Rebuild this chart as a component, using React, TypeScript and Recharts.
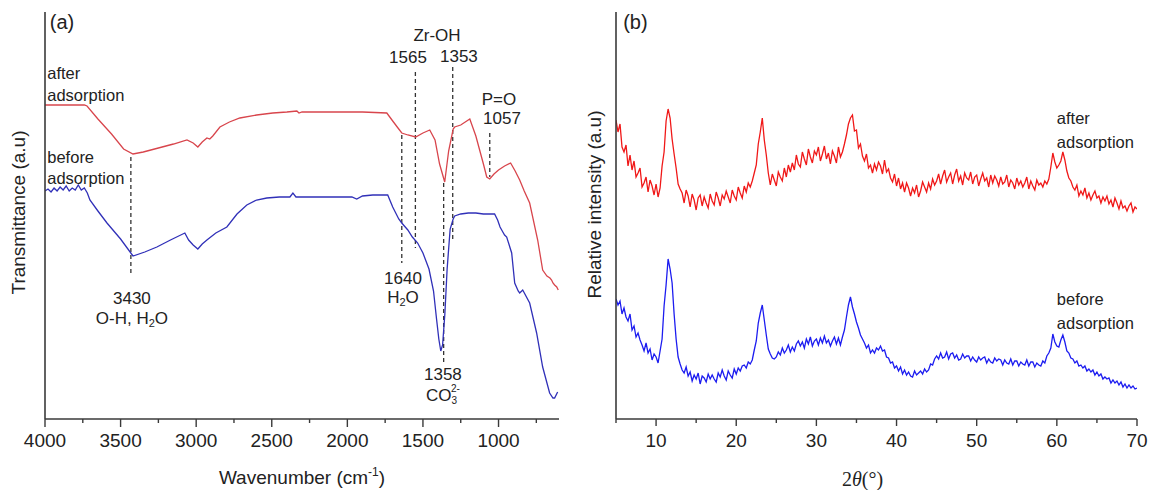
import React from "react";
import {
  Label,
  Line,
  LineChart,
  ReferenceDot,
  ReferenceLine,
  XAxis,
  YAxis,
} from "recharts";

const SANS = '"Liberation Sans", Arial, sans-serif';
const SERIF = '"Liberation Serif", "Times New Roman", serif';
const INK = "#222";
const AXIS = "#3a3a3a";

// ---------- (a) FTIR: [wavenumber cm-1, transmittance a.u.]
const ftirTicks = [
  4000, 3750, 3500, 3250, 3000, 2750, 2500, 2250, 2000, 1750, 1500, 1250,
  1000, 750,
];

const ftirAfter: [number, number][] = [
  [4000, 314], [3900, 314], [3800, 314], [3740, 314], [3722, 313], [3650, 300],
  [3560, 285], [3480, 270], [3418, 265], [3350, 267], [3250, 271], [3150, 275],
  [3061, 279], [3020, 276], [2989, 272], [2960, 277], [2929, 281], [2910, 280],
  [2890, 283], [2843, 292], [2780, 297], [2711, 301], [2600, 304], [2493, 306],
  [2400, 307], [2334, 308], [2320, 306], [2300, 307], [2100, 307], [1900, 307],
  [1739, 306], [1700, 298], [1660, 290], [1640, 286], [1600, 284], [1548, 282],
  [1500, 286], [1455, 289], [1420, 279], [1390, 255], [1356, 237], [1330, 268],
  [1300, 290], [1290, 292], [1250, 294], [1190, 300], [1150, 283], [1100, 255],
  [1078, 242], [1058, 240], [1030, 245], [1000, 249], [960, 253], [920, 256],
  [890, 248], [860, 239], [830, 228], [794, 216], [741, 179], [708, 149],
  [680, 143], [660, 141], [649, 139], [640, 136], [629, 134], [615, 132],
  [605, 129],
];

const ftirBefore: [number, number][] = [
  [4000, 228], [3980, 230], [3960, 227], [3940, 231], [3920, 228], [3900, 232],
  [3880, 229], [3860, 233], [3840, 228], [3820, 231], [3800, 229], [3780, 234],
  [3760, 229], [3740, 231], [3720, 226], [3703, 219], [3650, 208], [3590, 196],
  [3500, 180], [3418, 163], [3340, 167], [3260, 172], [3170, 179], [3075, 186],
  [3050, 179], [3020, 174], [2989, 170], [2960, 175], [2929, 179], [2870, 186],
  [2797, 192], [2730, 205], [2665, 214], [2600, 219], [2533, 221], [2450, 222],
  [2380, 222], [2360, 226], [2340, 222], [2200, 222], [2050, 222], [1970, 222],
  [1938, 220], [1900, 223], [1832, 224], [1733, 224], [1700, 212], [1660, 200],
  [1640, 196], [1600, 189], [1570, 182], [1535, 176], [1500, 166], [1460, 150],
  [1430, 128], [1410, 100], [1395, 80], [1382, 68], [1370, 74], [1355, 105],
  [1340, 150], [1320, 190], [1300, 200], [1290, 203], [1250, 205], [1200, 206],
  [1150, 206], [1100, 205], [1026, 205], [1006, 199], [990, 192], [979, 189],
  [960, 184], [946, 182], [913, 166], [893, 136], [870, 128], [860, 126],
  [840, 129], [794, 116], [748, 86], [708, 52], [662, 26], [640, 21],
  [629, 21], [609, 27],
];

// dashed peak markers: [wavenumber, from, to]
const ftirMarkers: [number, number, number][] = [
  [3432, 262, 146],
  [1640, 284, 156],
  [1550, 347, 171],
  [1303, 352, 179],
  [1363, 236, 54],
  [1058, 286, 242],
];

// ---------- (b) XRD: intensity every 0.25 deg from 5 to 70 (2 theta)
const xrdTicks = [5, 10, 15, 20, 25, 30, 35, 40, 45, 50, 55, 60, 65, 70];

const xrdAfter = [
  316, 304, 312, 289, 284, 291, 270, 281, 266, 275, 259, 263, 268, 249, 253, 259,
  244, 256, 250, 241, 252, 239, 248, 270, 284, 315, 327, 318, 297, 282, 268, 252,
  247, 243, 233, 246, 240, 229, 242, 236, 226, 238, 241, 230, 239, 233, 228, 242,
  235, 231, 244, 238, 230, 241, 237, 245, 239, 233, 246, 240, 236, 249, 243, 238,
  250, 244, 253, 249, 255, 263, 271, 292, 304, 318, 296, 281, 263, 251, 262, 256,
  250, 264, 259, 255, 268, 259, 271, 264, 273, 266, 281, 272, 269, 284, 277, 271,
  287, 279, 273, 285, 281, 289, 275, 282, 290, 277, 283, 272, 285, 280, 273, 289,
  279, 284, 292, 301, 312, 318, 321, 305, 306, 288, 292, 280, 275, 282, 268, 271,
  263, 272, 266, 274, 270, 262, 276, 264, 267, 258, 254, 262, 250, 258, 247, 253,
  244, 253, 248, 240, 248, 243, 251, 239, 245, 254, 249, 244, 253, 247, 257, 251,
  255, 262, 252, 260, 266, 254, 259, 263, 252, 261, 267, 255, 260, 251, 263, 258,
  256, 264, 252, 259, 261, 250, 257, 263, 255, 258, 249, 261, 253, 260, 256, 250,
  259, 252, 254, 261, 249, 256, 253, 247, 258, 251, 255, 249, 253, 259, 247, 255,
  250, 246, 256, 251, 253, 249, 255, 252, 257, 269, 283, 274, 268, 271, 275, 284,
  276, 265, 258, 255, 249, 246, 251, 240, 245, 241, 248, 238, 243, 236, 241, 245,
  238, 240, 233, 239, 235, 240, 232, 236, 229, 238, 233, 227, 235, 228, 230, 225,
  230, 233, 224, 229, 227,
];

const xrdBefore = [
  137, 131, 135, 122, 128, 119, 115, 122, 106, 110, 99, 103, 96, 91, 85, 93,
  83, 87, 76, 82, 79, 73, 85, 97, 130, 151, 177, 167, 153, 122, 97, 79,
  72, 66, 63, 69, 60, 64, 55, 61, 57, 63, 52, 60, 58, 54, 62, 57,
  61, 57, 54, 63, 59, 66, 60, 56, 65, 61, 58, 67, 62, 68, 65, 70,
  71, 68, 74, 72, 76, 86, 95, 113, 123, 131, 116, 101, 87, 82, 78, 77,
  79, 84, 81, 88, 83, 86, 91, 84, 89, 85, 92, 95, 90, 94, 88, 97,
  92, 99, 90, 95, 97, 91, 98, 93, 100, 93, 96, 90, 95, 99, 92, 98,
  91, 99, 106, 119, 131, 139, 129, 122, 114, 108, 101, 97, 93, 88, 91, 83,
  86, 83, 88, 86, 90, 85, 86, 79, 78, 73, 74, 68, 70, 65, 69, 62,
  66, 61, 64, 60, 59, 65, 61, 63, 65, 62, 67, 64, 66, 72, 71, 77,
  80, 77, 83, 78, 79, 84, 77, 82, 83, 78, 81, 76, 77, 82, 78, 80,
  80, 75, 79, 76, 74, 79, 76, 78, 79, 73, 77, 74, 73, 78, 75, 77,
  76, 71, 76, 73, 72, 77, 71, 75, 75, 70, 74, 72, 71, 76, 70, 74,
  74, 69, 73, 71, 70, 75, 73, 80, 83, 88, 102, 94, 90, 89, 96, 101,
  94, 85, 83, 78, 77, 73, 75, 70, 71, 68, 70, 65, 67, 64, 66, 61,
  64, 60, 62, 57, 59, 57, 58, 53, 56, 53, 55, 51, 54, 49, 52, 48,
  51, 48, 50, 47, 48,
];

const toPoints = (rows: [number, number][]) =>
  rows.map(([x, y]) => ({ x, y }));
const xrdPoints = (values: number[]) =>
  values.map((y, i) => ({ x: 5 + i * 0.25, y }));

const makeTick =
  (isMajor: (v: number) => boolean, majorLen: number, minorLen: number) =>
  (props: any) => {
    const { x, y, payload } = props;
    const big = isMajor(payload.value);
    return (
      <g>
        <line
          x1={x}
          x2={x}
          y1={y}
          y2={y + (big ? majorLen : minorLen)}
          stroke={AXIS}
          strokeWidth={1.4}
        />
        {big && (
          <text
            x={x}
            y={y + 28}
            textAnchor="middle"
            fontSize={19}
            fontFamily={SANS}
            fill={INK}
          >
            {payload.value}
          </text>
        )}
      </g>
    );
  };

const Note = ({ cx, cy, anchor = "middle", size = 17, children }: any) => (
  <text
    x={cx}
    y={cy}
    textAnchor={anchor}
    dominantBaseline="central"
    fontSize={size}
    fontFamily={SANS}
    fill={INK}
  >
    {children}
  </text>
);

const note = (
  x: number,
  y: number,
  content: React.ReactNode,
  anchor = "middle",
  size = 17
) => (
  <ReferenceDot
    key={`${x}-${y}`}
    x={x}
    y={y}
    r={0}
    ifOverflow="visible"
    shape={(p: any) => (
      <Note cx={p.cx} cy={p.cy} anchor={anchor} size={size}>
        {content}
      </Note>
    )}
  />
);

const YTitle = ({ viewBox, text, dx, dy }: any) => {
  const cx = viewBox.x + dx;
  const cy = viewBox.y + viewBox.height / 2 + dy;
  return (
    <text
      x={cx}
      y={cy}
      transform={`rotate(-90 ${cx} ${cy})`}
      textAnchor="middle"
      dominantBaseline="central"
      fontSize={19}
      fontFamily={SANS}
      fill={INK}
    >
      {text}
    </text>
  );
};

const FtirChart = () => (
  <LineChart
    width={580}
    height={490}
    margin={{ top: 12, right: 21, bottom: 31, left: 44 }}
  >
    <XAxis
      type="number"
      dataKey="x"
      domain={[600, 4000]}
      reversed
      allowDataOverflow
      ticks={ftirTicks}
      interval={0}
      height={40}
      tickSize={0}
      tickMargin={0}
      tickLine={false}
      stroke={AXIS}
      strokeWidth={1.6}
      tick={makeTick((v) => v % 500 === 0, 8, 4)}
    >
      <Label
        content={({ viewBox }: any) => (
          <text
            x={viewBox.x + viewBox.width / 2}
            y={viewBox.y + 65}
            textAnchor="middle"
            fontSize={19}
            fontFamily={SANS}
            fill={INK}
          >
            Wavenumber (cm
            <tspan dy={-8} fontSize={12}>
              -1
            </tspan>
            <tspan dy={8}>)</tspan>
          </text>
        )}
      />
    </XAxis>
    <YAxis
      type="number"
      domain={[0, 407]}
      allowDataOverflow
      width={1}
      tick={false}
      tickLine={false}
      stroke={AXIS}
      strokeWidth={1.6}
    >
      <Label
        content={(p: any) => (
          <YTitle {...p} text="Transmittance (a.u)" dx={-26} dy={-3} />
        )}
      />
    </YAxis>

    {ftirMarkers.map(([wn, from, to]) => (
      <ReferenceLine
        key={wn}
        segment={[
          { x: wn, y: from },
          { x: wn, y: to },
        ]}
        stroke="#333"
        strokeWidth={1.3}
        strokeDasharray="4 3"
      />
    ))}

    <Line
      data={toPoints(ftirAfter)}
      dataKey="y"
      type="linear"
      stroke="#d8454c"
      strokeWidth={1.3}
      dot={false}
      isAnimationActive={false}
    />
    <Line
      data={toPoints(ftirBefore)}
      dataKey="y"
      type="linear"
      stroke="#3030b8"
      strokeWidth={1.3}
      dot={false}
      isAnimationActive={false}
    />

    {note(3968, 397, "(a)", "start", 20)}
    {note(3985, 346, "after", "start", 16.5)}
    {note(3985, 324, "adsorption", "start", 16.5)}
    {note(3985, 262, "before", "start", 16.5)}
    {note(3985, 241, "adsorption", "start", 16.5)}
    {note(3425, 121, "3430")}
    {note(
      3425,
      101,
      <>
        O-H, H
        <tspan dy={5} fontSize={11}>
          2
        </tspan>
        <tspan dy={-5}>O</tspan>
      </>
    )}
    {note(1632, 141, "1640")}
    {note(
      1632,
      122,
      <>
        H
        <tspan dy={5} fontSize={11}>
          2
        </tspan>
        <tspan dy={-5}>O</tspan>
      </>
    )}
    {note(1368, 45, "1358")}
    {note(
      1368,
      24,
      <>
        CO
        <tspan dy={5} fontSize={10}>
          3
        </tspan>
        <tspan dx={-6} dy={-12} fontSize={10}>
          2-
        </tspan>
      </>
    )}
    {note(1599, 362, "1565")}
    {note(1407, 384, "Zr-OH")}
    {note(1262, 363, "1353")}
    {note(997, 320, "P=O")}
    {note(977, 301, "1057")}
  </LineChart>
);

const XrdChart = () => (
  <LineChart
    width={572}
    height={490}
    margin={{ top: 12, right: 15, bottom: 31, left: 35 }}
  >
    <XAxis
      type="number"
      dataKey="x"
      domain={[5, 70]}
      allowDataOverflow
      ticks={xrdTicks}
      interval={0}
      height={40}
      tickSize={0}
      tickMargin={0}
      tickLine={false}
      stroke={AXIS}
      strokeWidth={1.6}
      tick={makeTick((v) => v % 10 === 0, 7, 4)}
    >
      <Label
        content={({ viewBox }: any) => (
          <text
            x={viewBox.x + viewBox.width / 2 - 14}
            y={viewBox.y + 67}
            textAnchor="middle"
            fontSize={20}
            fontFamily={SERIF}
            fill={INK}
          >
            2<tspan fontStyle="italic">θ</tspan>(°)
          </text>
        )}
      />
    </XAxis>
    <YAxis
      type="number"
      domain={[17, 424]}
      allowDataOverflow
      width={1}
      tick={false}
      tickLine={false}
      stroke={AXIS}
      strokeWidth={1.6}
    >
      <Label
        content={(p: any) => (
          <YTitle {...p} text="Relative intensity (a.u)" dx={-21} dy={-11} />
        )}
      />
    </YAxis>

    <Line
      data={xrdPoints(xrdAfter)}
      dataKey="y"
      type="linear"
      stroke="#f01818"
      strokeWidth={1.3}
      dot={false}
      isAnimationActive={false}
    />
    <Line
      data={xrdPoints(xrdBefore)}
      dataKey="y"
      type="linear"
      stroke="#1c1cf0"
      strokeWidth={1.3}
      dot={false}
      isAnimationActive={false}
    />

    {note(5.9, 414, "(b)", "start", 20)}
    {note(60, 318, "after", "start", 16.5)}
    {note(60, 294, "adsorption", "start", 16.5)}
    {note(60, 137, "before", "start", 16.5)}
    {note(60, 113, "adsorption", "start", 16.5)}
  </LineChart>
);

export default function App() {
  return (
    <div
      style={{
        position: "relative",
        width: 1152,
        height: 490,
        background: "#fff",
        overflow: "hidden",
      }}
    >
      <style>{"body{margin:0}"}</style>
      <div style={{ position: "absolute", left: 0, top: 0 }}>
        <FtirChart />
      </div>
      <div style={{ position: "absolute", left: 580, top: 0 }}>
        <XrdChart />
      </div>
    </div>
  );
}
